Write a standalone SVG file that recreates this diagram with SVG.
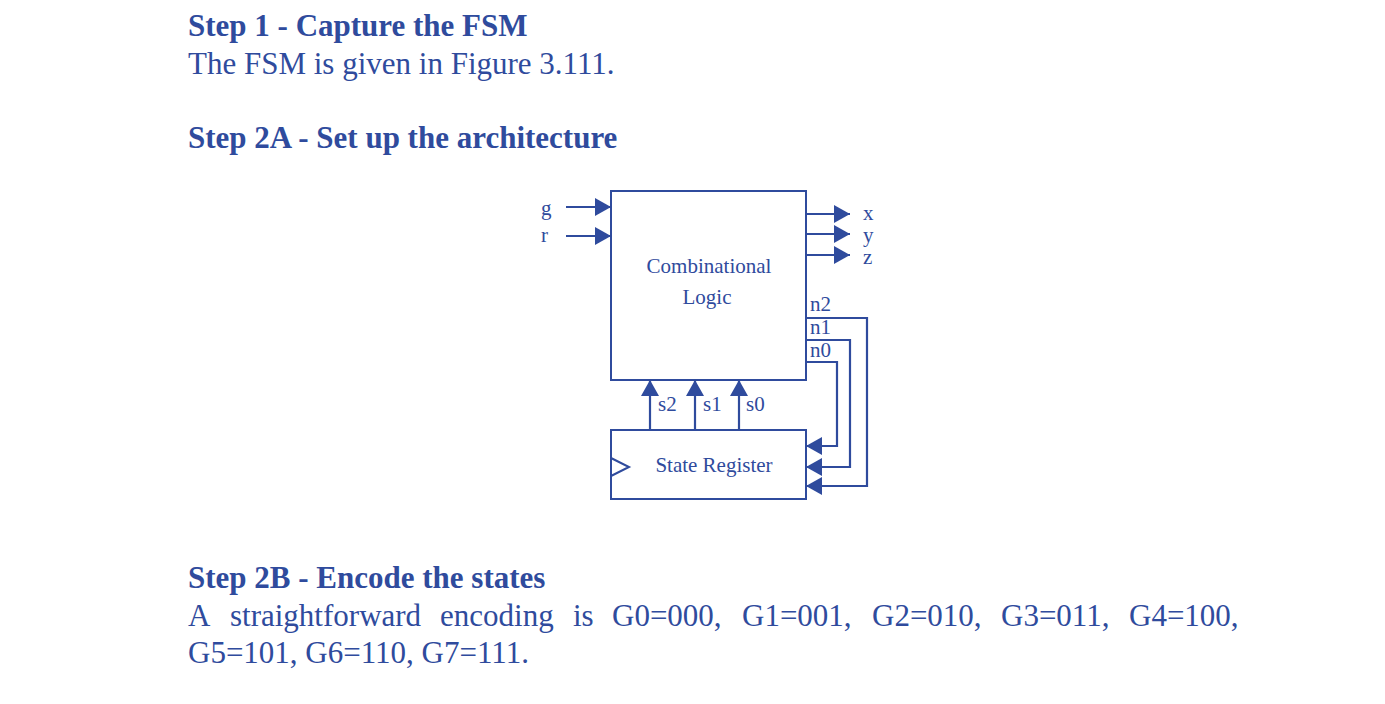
<svg xmlns="http://www.w3.org/2000/svg" width="1385" height="704" viewBox="0 0 1385 704">
<style>
.t{font-family:"Liberation Serif","Times New Roman",serif;fill:#2F4B9D}
.h{font-size:31px;font-weight:bold}
.p{font-size:31px}
.d{font-size:21px}
.box{fill:none;stroke:#2F4B9D;stroke-width:2}
.w{fill:none;stroke:#2F4B9D;stroke-width:2.2}
.ah{fill:#2F4B9D}
</style>
<defs>
<marker id="arr" markerUnits="userSpaceOnUse" viewBox="0 0 16 18" refX="16" refY="9" markerWidth="16" markerHeight="18" orient="auto">
<path d="M0,0 L16,9 L0,18 Z" class="ah"/>
</marker>
</defs>
<rect width="1385" height="704" fill="#fff"/>
<text class="t h" x="188" y="36">Step 1 - Capture the FSM</text>
<text class="t p" x="188" y="74">The FSM is given in Figure 3.111.</text>
<text class="t h" x="188" y="148">Step 2A - Set up the architecture</text>
<g id="comb">
<rect class="box" x="611" y="191" width="195" height="189"/>
<text class="t d" x="709" y="273" text-anchor="middle">Combinational</text>
<text class="t d" x="707" y="304" text-anchor="middle">Logic</text>
</g>
<g id="reg">
<rect class="box" x="611" y="430" width="195" height="69"/>
<polyline class="box" points="611,458 629,467 611,476"/>
<text class="t d" x="714" y="472" text-anchor="middle">State Register</text>
</g>
<g id="labels">
<text class="t d" x="541" y="215">g</text>
<text class="t d" x="541" y="242">r</text>
<text class="t d" x="863" y="220">x</text>
<text class="t d" x="863" y="242">y</text>
<text class="t d" x="863" y="264">z</text>
<text class="t d" x="810" y="311">n2</text>
<text class="t d" x="810" y="334">n1</text>
<text class="t d" x="810" y="357">n0</text>
<text class="t d" x="658" y="411">s2</text>
<text class="t d" x="703" y="411">s1</text>
<text class="t d" x="746" y="411">s0</text>
</g>
<g id="connectors">
<line class="w" x1="566" y1="207" x2="611" y2="207" marker-end="url(#arr)"/>
<line class="w" x1="566" y1="236" x2="611" y2="236" marker-end="url(#arr)"/>
<line class="w" x1="806" y1="214" x2="850" y2="214" marker-end="url(#arr)"/>
<line class="w" x1="806" y1="234" x2="850" y2="234" marker-end="url(#arr)"/>
<line class="w" x1="806" y1="255" x2="850" y2="255" marker-end="url(#arr)"/>
<polyline class="w" points="806,318 867,318 867,486 806,486" marker-end="url(#arr)"/>
<polyline class="w" points="806,340 850,340 850,467 806,467" marker-end="url(#arr)"/>
<polyline class="w" points="806,362 837,362 837,446 806,446" marker-end="url(#arr)"/>
<line class="w" x1="650" y1="430" x2="650" y2="380" marker-end="url(#arr)"/>
<line class="w" x1="695" y1="430" x2="695" y2="380" marker-end="url(#arr)"/>
<line class="w" x1="739" y1="430" x2="739" y2="380" marker-end="url(#arr)"/>
</g>
<text class="t h" x="188" y="588">Step 2B - Encode the states</text>
<text class="t p" y="626"><tspan x="188">A</tspan><tspan x="230">straightforward</tspan><tspan x="440">encoding</tspan><tspan x="573">is</tspan><tspan x="612">G0=000,</tspan><tspan x="742">G1=001,</tspan><tspan x="872">G2=010,</tspan><tspan x="1001">G3=011,</tspan><tspan x="1129">G4=100,</tspan></text>
<text class="t p" x="188" y="663">G5=101, G6=110, G7=111.</text>
</svg>
